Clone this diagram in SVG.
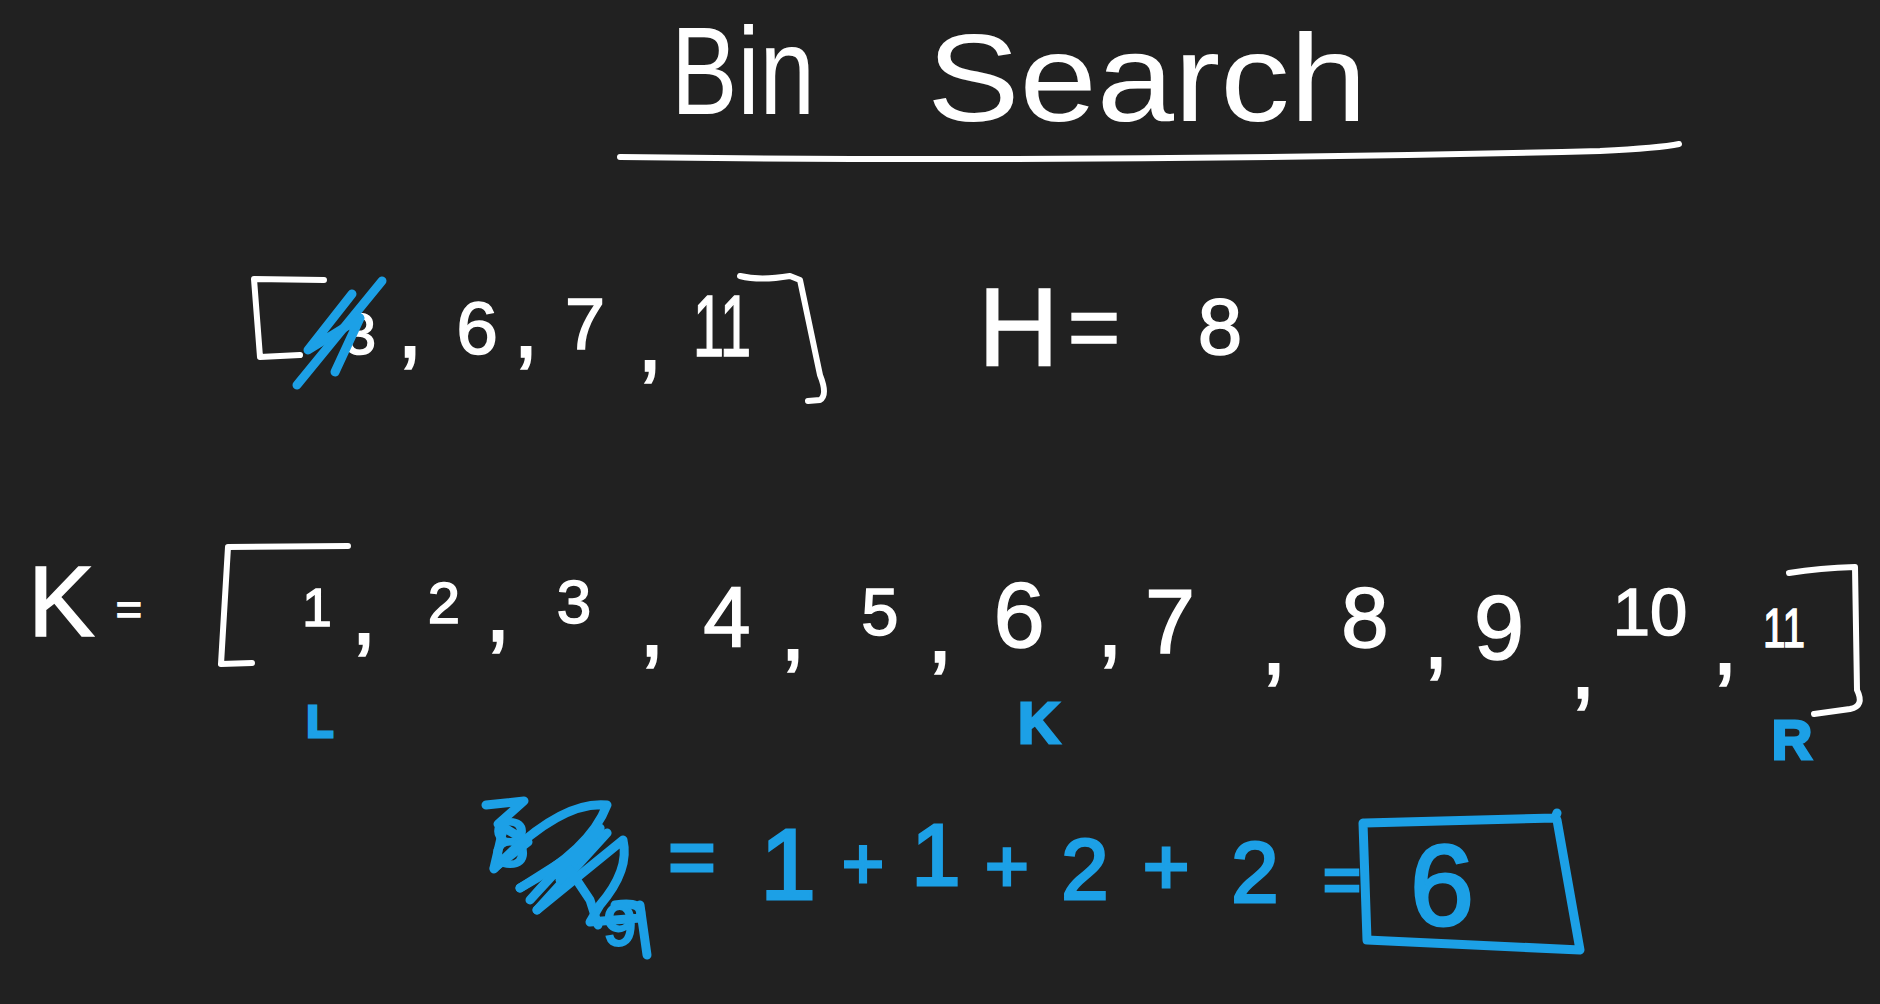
<svg xmlns="http://www.w3.org/2000/svg" width="1880" height="1004" viewBox="0 0 1880 1004">
<style>
.t{font-family:"Liberation Sans",Arial,sans-serif;}
.w{fill:#ffffff;stroke:#ffffff;stroke-width:1.5;}
.b{fill:#1ca0e6;stroke:#1ca0e6;stroke-width:3;}
.ws{fill:none;stroke:#ffffff;stroke-width:6;stroke-linecap:round;stroke-linejoin:round;}
.bs{fill:none;stroke:#1ca0e6;stroke-width:9;stroke-linecap:round;stroke-linejoin:round;}
.m{text-anchor:middle;}
</style>
<rect x="0" y="0" width="1880" height="1004" fill="#212121"/>

<g id="title">
  <text class="t" fill="#ffffff" x="671" y="114" font-size="125" textLength="144" lengthAdjust="spacingAndGlyphs">Bin</text>
  <text class="t" fill="#ffffff" x="927" y="121" font-size="125" textLength="440" lengthAdjust="spacingAndGlyphs">Search</text>
  <path class="ws" d="M620,157 Q1100,163 1600,151 Q1660,148 1679,144" stroke-width="8"/>
</g>

<g id="array1">
  <path class="ws" d="M324,280 L254,279 L260,357 L300,355"/>
  <text class="t w m" x="360" y="354" font-size="58">3</text>
  <path class="bs" d="M382,281 L297,385"/>
  <path class="bs" d="M352,294 L308,350 L360,318 L335,372"/>
  <text class="t w m" x="410" y="357" font-size="95">,</text>
  <text class="t w m" x="477" y="354" font-size="75">6</text>
  <text class="t w m" x="526" y="357" font-size="95">,</text>
  <text class="t w m" x="585" y="349" font-size="72">7</text>
  <text class="t w m" x="650" y="371" font-size="95">,</text>
  <text class="t w" x="693" y="356" font-size="88" textLength="58" lengthAdjust="spacingAndGlyphs">11</text>
  <path class="ws" d="M740,276 Q760,281 790,276 L800,280 L820,375 Q828,395 820,400 L808,401"/>
</g>

<g id="hValue">
  <text class="t w" x="978" y="366" font-size="112">H</text>
  <text class="t w m" x="1094" y="358" font-size="90">=</text>
  <text class="t w m" x="1220" y="354" font-size="80">8</text>
</g>

<g id="kArray">
  <text class="t w" x="28" y="636" font-size="100">K</text>
  <text class="t w m" x="129" y="624" font-size="45">=</text>
  <path class="ws" d="M348,546 L228,547 L221,664 L252,663"/>
  <text class="t w m" x="317" y="626" font-size="53">1</text>
  <text class="t w m" x="364" y="644" font-size="95">,</text>
  <text class="t w m" x="444" y="623" font-size="58">2</text>
  <text class="t w m" x="498" y="641" font-size="95">,</text>
  <text class="t w m" x="574" y="623" font-size="62">3</text>
  <text class="t w m" x="652" y="656" font-size="95">,</text>
  <text class="t w m" x="727" y="646" font-size="85">4</text>
  <text class="t w m" x="793" y="660" font-size="95">,</text>
  <text class="t w m" x="880" y="635" font-size="67">5</text>
  <text class="t w m" x="940" y="662" font-size="95">,</text>
  <text class="t w m" x="1019" y="647" font-size="92">6</text>
  <text class="t w m" x="1110" y="656" font-size="95">,</text>
  <text class="t w m" x="1170" y="653" font-size="90">7</text>
  <text class="t w m" x="1274" y="674" font-size="95">,</text>
  <text class="t w m" x="1365" y="647" font-size="85">8</text>
  <text class="t w m" x="1436" y="668" font-size="95">,</text>
  <text class="t w m" x="1499" y="659" font-size="90">9</text>
  <text class="t w m" x="1583" y="698" font-size="95">,</text>
  <text class="t w m" x="1650" y="635" font-size="67">10</text>
  <text class="t w m" x="1725" y="674" font-size="95">,</text>
  <text class="t w" x="1763" y="647" font-size="55" textLength="42" lengthAdjust="spacingAndGlyphs">11</text>
  <path class="ws" d="M1789,573 Q1820,568 1855,567 L1857,690 Q1865,706 1850,709 L1814,714"/>
</g>

<g id="pointers">
  <text class="t b m" x="320" y="737" font-size="44" font-weight="bold">L</text>
  <text class="t b m" x="1039" y="743" font-size="58" font-weight="bold">K</text>
  <text class="t b m" x="1792" y="759" font-size="56" font-weight="bold">R</text>
</g>

<g id="sum">
  <text class="t b m" x="510" y="866" font-size="66">8</text>
  <text class="t b m" x="620" y="945" font-size="58">9</text>
  <path class="bs" d="M486,805 L524,801 L498,824 L528,842 L494,868 L505,821"/>
  <path class="bs" d="M494,869 Q560,800 607,805 Q590,850 520,888"/>
  <path class="bs" d="M520,888 L607,833 L537,910"/>
  <path class="bs" d="M530,900 Q575,850 600,828 L560,880"/>
  <path class="bs" d="M537,910 L623,840 Q630,870 600,905 L590,922 L640,918 Q645,900 615,905"/>
  <path class="bs" d="M570,870 L590,900 L598,925"/>
  <path class="bs" d="M640,905 L647,955"/>
  <text class="t b m" x="692" y="885" font-size="82">=</text>
  <text class="t b m" x="788" y="899" font-size="100">1</text>
  <text class="t b m" x="863" y="888" font-size="72">+</text>
  <text class="t b m" x="936" y="885" font-size="88">1</text>
  <text class="t b m" x="1007" y="892" font-size="75">+</text>
  <text class="t b m" x="1085" y="899" font-size="85">2</text>
  <text class="t b m" x="1166" y="894" font-size="80">+</text>
  <text class="t b m" x="1255" y="902" font-size="85">2</text>
  <text class="t b m" x="1342" y="902" font-size="65">=</text>
</g>

<g id="answerBox">
  <path class="bs" d="M1365,823 L1555,818 L1557,813 M1557,820 L1580,950 L1367,940 L1363,823"/>
  <text class="t b m" x="1442" y="925" font-size="115">6</text>
</g>
</svg>
